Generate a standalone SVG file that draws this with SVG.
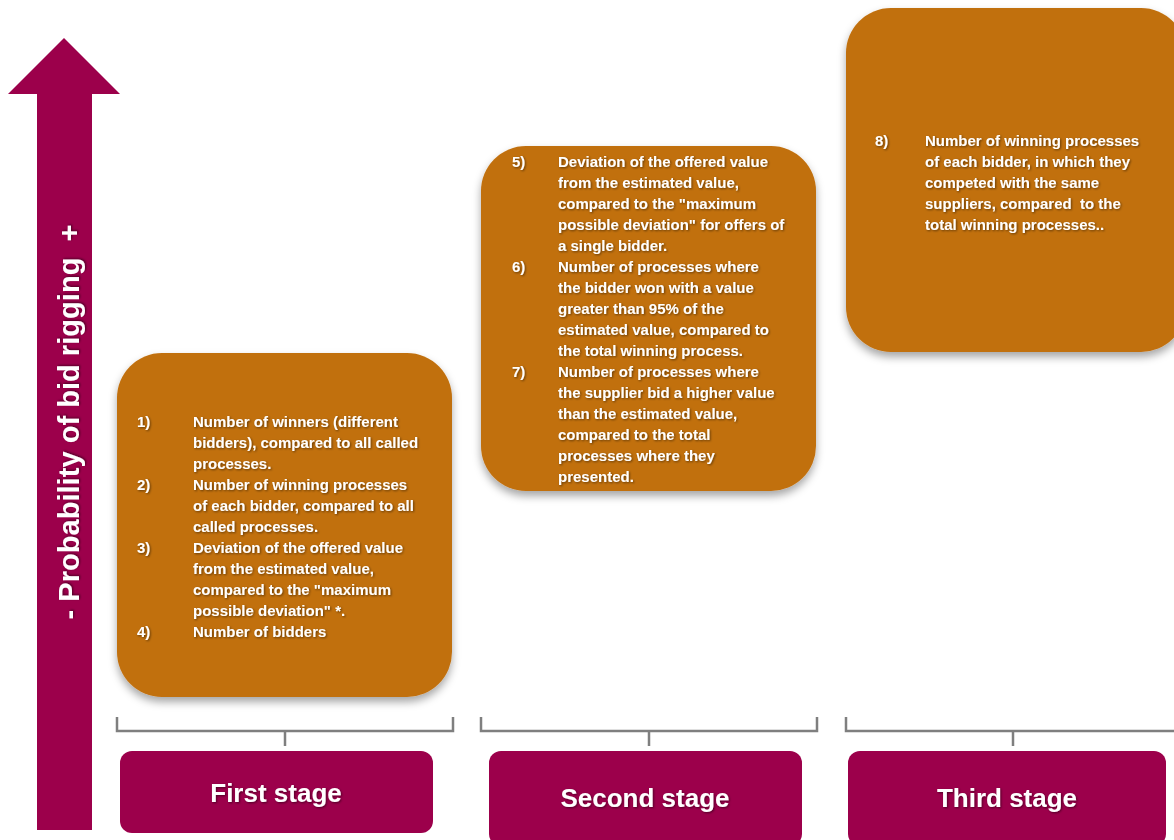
<svg xmlns="http://www.w3.org/2000/svg" width="1174" height="840" viewBox="0 0 1174 840">
<defs>
<filter id="sh" x="-10%" y="-10%" width="120%" height="125%">
<feDropShadow dx="0" dy="5" stdDeviation="4" flood-color="#000" flood-opacity="0.35"/>
</filter>
<filter id="ts" x="-5%" y="-20%" width="110%" height="150%">
<feDropShadow dx="1" dy="1" stdDeviation="0.8" flood-color="#000" flood-opacity="0.5"/>
</filter>
<style>
.box{fill:#C1700F;filter:url(#sh)}
.stage{fill:#9C004B}
.t{font-family:"Liberation Sans",Arial,sans-serif;font-weight:bold;font-size:15px;fill:#fff;filter:url(#ts)}
.st{font-family:"Liberation Sans",Arial,sans-serif;font-weight:bold;font-size:26px;fill:#fff;text-anchor:middle;filter:url(#ts)}
.br{fill:none;stroke:#7f7f7f;stroke-width:2.5}
</style>
</defs>
<rect width="1174" height="840" fill="#fff"/>
<g id="axis-arrow">
<polygon points="64,38 120,94 92,94 92,830 37,830 37,94 8,94" fill="#9C004B"/>
<text class="st" transform="translate(79,422) rotate(-90)" x="0" y="0" style="font-size:29px" textLength="395" lengthAdjust="spacing">- Probability of bid rigging &#160;+</text>
</g>
<g id="box1">
<rect class="box" x="117" y="353" width="335" height="344" rx="45"/>
<text class="t">
<tspan x="137" y="427">1)</tspan><tspan x="193" y="427">Number of winners (different</tspan>
<tspan x="193" y="448">bidders), compared to all called</tspan>
<tspan x="193" y="469">processes.</tspan>
<tspan x="137" y="490">2)</tspan><tspan x="193" y="490">Number of winning processes</tspan>
<tspan x="193" y="511">of each bidder, compared to all</tspan>
<tspan x="193" y="532">called processes.</tspan>
<tspan x="137" y="553">3)</tspan><tspan x="193" y="553">Deviation of the offered value</tspan>
<tspan x="193" y="574">from the estimated value,</tspan>
<tspan x="193" y="595">compared to the "maximum</tspan>
<tspan x="193" y="616">possible deviation" *.</tspan>
<tspan x="137" y="637">4)</tspan><tspan x="193" y="637">Number of bidders</tspan>
</text>
</g>
<g id="box2">
<rect class="box" x="481" y="146" width="335" height="345" rx="45"/>
<text class="t">
<tspan x="512" y="167">5)</tspan><tspan x="558" y="167">Deviation of the offered value</tspan>
<tspan x="558" y="188">from the estimated value,</tspan>
<tspan x="558" y="209">compared to the "maximum</tspan>
<tspan x="558" y="230">possible deviation" for offers of</tspan>
<tspan x="558" y="251">a single bidder.</tspan>
<tspan x="512" y="272">6)</tspan><tspan x="558" y="272">Number of processes where</tspan>
<tspan x="558" y="293">the bidder won with a value</tspan>
<tspan x="558" y="314">greater than 95% of the</tspan>
<tspan x="558" y="335">estimated value, compared to</tspan>
<tspan x="558" y="356">the total winning process.</tspan>
<tspan x="512" y="377">7)</tspan><tspan x="558" y="377">Number of processes where</tspan>
<tspan x="558" y="398">the supplier bid a higher value</tspan>
<tspan x="558" y="419">than the estimated value,</tspan>
<tspan x="558" y="440">compared to the total</tspan>
<tspan x="558" y="461">processes where they</tspan>
<tspan x="558" y="482">presented.</tspan>
</text>
</g>
<g id="box3">
<rect class="box" x="846" y="8" width="340" height="344" rx="45"/>
<text class="t">
<tspan x="875" y="146">8)</tspan><tspan x="925" y="146">Number of winning processes</tspan>
<tspan x="925" y="167">of each bidder, in which they</tspan>
<tspan x="925" y="188">competed with the same</tspan>
<tspan x="925" y="209">suppliers, compared &#160;to the</tspan>
<tspan x="925" y="230">total winning processes..</tspan>
</text>
</g>
<g id="connectors">
<path class="br" d="M117,717 V731 H453 V717 M285,731 V746"/>
<path class="br" d="M481,717 V731 H817 V717 M649,731 V746"/>
<path class="br" d="M846,717 V731 H1176 M1013,731 V746"/>
</g>
<g id="stage1">
<rect class="stage" x="120" y="751" width="313" height="82" rx="12"/>
<text class="st" x="276" y="802">First stage</text>
</g>
<g id="stage2">
<rect class="stage" x="489" y="751" width="313" height="95" rx="12"/>
<text class="st" x="645" y="807">Second stage</text>
</g>
<g id="stage3">
<rect class="stage" x="848" y="751" width="318" height="95" rx="12"/>
<text class="st" x="1007" y="807">Third stage</text>
</g>
</svg>
